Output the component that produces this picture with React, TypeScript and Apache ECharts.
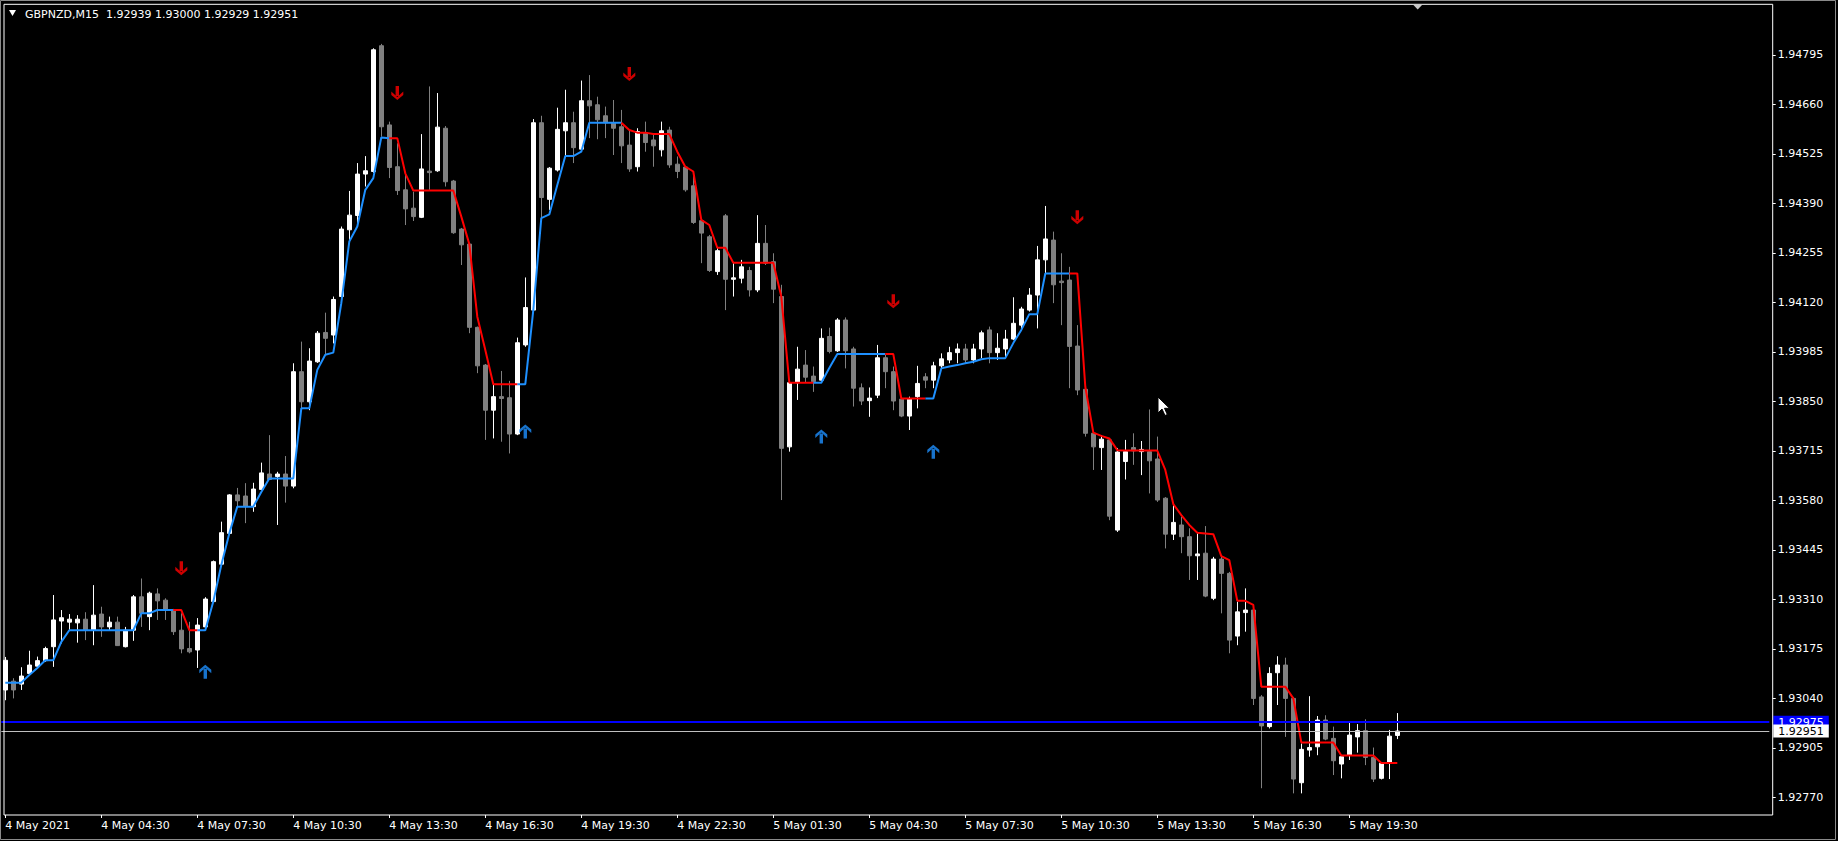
import React, { useEffect, useRef } from "react";
import * as echarts from "echarts";

const symbolName = "GBPNZD";
const timeframe = "M15";

const tickLabels = [
  "4 May 2021", "4 May 04:30", "4 May 07:30", "4 May 10:30", "4 May 13:30",
  "4 May 16:30", "4 May 19:30", "4 May 22:30", "5 May 01:30", "5 May 04:30",
  "5 May 07:30", "5 May 10:30", "5 May 13:30", "5 May 16:30", "5 May 19:30",
];

const priceTicks = [
  1.9277, 1.92905, 1.9304, 1.93175, 1.9331, 1.93445, 1.9358, 1.93715,
  1.9385, 1.93985, 1.9412, 1.94255, 1.9439, 1.94525, 1.9466, 1.94795,
];

const opens = [
  1.93063, 1.93087, 1.93079, 1.93108, 1.93128, 1.93143, 1.93181, 1.93251, 1.93248, 1.93246,
  1.93256, 1.93226, 1.9327, 1.93235, 1.93248, 1.93181, 1.93226, 1.93317, 1.93263, 1.93325,
  1.93308, 1.93281, 1.93226, 1.93176, 1.93172, 1.93235, 1.93304, 1.93406, 1.9349, 1.93595,
  1.93592, 1.93563, 1.9361, 1.93652, 1.93645, 1.93652, 1.93619, 1.93931, 1.93849, 1.93958,
  1.94038, 1.94031, 1.94136, 1.94318, 1.94357, 1.9447, 1.94477, 1.9482, 1.94604, 1.9449,
  1.94427, 1.94377, 1.94352, 1.94478, 1.94479, 1.94595, 1.94451, 1.9432, 1.94279, 1.94052,
  1.93949, 1.93826, 1.93863, 1.9386, 1.93761, 1.94004, 1.94099, 1.9461, 1.94401, 1.94481,
  1.94588, 1.9461, 1.94538, 1.9467, 1.94659, 1.94629, 1.9461, 1.94599, 1.94549, 1.9449,
  1.94583, 1.94563, 1.94536, 1.9459, 1.94497, 1.94489, 1.94438, 1.94343, 1.94299, 1.94204,
  1.94356, 1.94183, 1.94186, 1.94207, 1.94154, 1.94281, 1.94231, 1.94136, 1.93726, 1.93901,
  1.93949, 1.93919, 1.93908, 1.94027, 1.93988, 1.94072, 1.93993, 1.93887, 1.93852, 1.93867,
  1.93969, 1.93931, 1.93856, 1.9381, 1.93863, 1.93917, 1.93908, 1.93947, 1.93963, 1.93983,
  1.93993, 1.93963, 1.93993, 1.94045, 1.93983, 1.93993, 1.9402, 1.94058, 1.94099, 1.9414,
  1.94236, 1.9429, 1.94178, 1.94181, 1.94001, 1.93883, 1.93763, 1.93724, 1.93745, 1.93499,
  1.93686, 1.93724, 1.93713, 1.93713, 1.93693, 1.93586, 1.93488, 1.93513, 1.93481, 1.93429,
  1.93436, 1.93313, 1.9342, 1.93381, 1.9321, 1.93274, 1.93281, 1.93044, 1.92963, 1.9311,
  1.93131, 1.9304, 1.9281, 1.92899, 1.92908, 1.92981, 1.92931, 1.92861, 1.92885, 1.92935,
  1.92952, 1.92879, 1.92822, 1.92863, 1.92939,
];

const closes = [
  1.93144, 1.93063, 1.93101, 1.93131, 1.93143, 1.93176, 1.93254, 1.9326, 1.93256, 1.93256,
  1.93226, 1.93267, 1.93235, 1.93248, 1.93184, 1.93226, 1.93317, 1.93272, 1.93327, 1.93306,
  1.93283, 1.93222, 1.93175, 1.93167, 1.9324, 1.93311, 1.93413, 1.93492, 1.93595, 1.93579,
  1.93563, 1.93611, 1.93655, 1.93637, 1.93652, 1.93619, 1.93931, 1.93849, 1.9396, 1.94036,
  1.94022, 1.94128, 1.9432, 1.94358, 1.9447, 1.94479, 1.94809, 1.94599, 1.94488, 1.94425,
  1.94375, 1.94354, 1.94484, 1.94474, 1.94598, 1.94449, 1.9431, 1.94277, 1.94052, 1.93947,
  1.93826, 1.93863, 1.93858, 1.93761, 1.9401, 1.94106, 1.9461, 1.94406, 1.94486, 1.94592,
  1.9461, 1.94542, 1.9467, 1.94656, 1.94618, 1.9461, 1.94595, 1.94547, 1.94484, 1.94586,
  1.94556, 1.94547, 1.94588, 1.94495, 1.94477, 1.94427, 1.94338, 1.94309, 1.94207, 1.94261,
  1.94183, 1.94187, 1.94217, 1.94154, 1.94281, 1.94227, 1.94156, 1.93722, 1.93901, 1.93938,
  1.93916, 1.93904, 1.94022, 1.93986, 1.94072, 1.93988, 1.93886, 1.93851, 1.93859, 1.93969,
  1.93931, 1.93851, 1.9381, 1.93856, 1.93899, 1.93908, 1.93947, 1.93966, 1.93983, 1.93993,
  1.93963, 1.93993, 1.94037, 1.93983, 1.93995, 1.9402, 1.94063, 1.94102, 1.9414, 1.94236,
  1.94293, 1.94168, 1.94174, 1.94, 1.93881, 1.93763, 1.93726, 1.93747, 1.93537, 1.93712,
  1.93713, 1.93715, 1.93719, 1.93688, 1.93581, 1.93488, 1.9352, 1.93481, 1.93429, 1.93434,
  1.93319, 1.9342, 1.93381, 1.93199, 1.93276, 1.93281, 1.9304, 1.92965, 1.93108, 1.93131,
  1.9304, 1.9282, 1.92901, 1.92906, 1.92981, 1.92929, 1.9287, 1.92881, 1.9294, 1.92952,
  1.92879, 1.9282, 1.92863, 1.92937, 1.92951,
];

const highs = [
  1.93153, 1.93095, 1.93125, 1.9317, 1.93154, 1.93181, 1.93322, 1.93281, 1.9327, 1.93267,
  1.93275, 1.93349, 1.9329, 1.93263, 1.93263, 1.93235, 1.93322, 1.93367, 1.93331, 1.9334,
  1.93313, 1.93284, 1.93272, 1.93249, 1.93259, 1.93316, 1.93416, 1.93522, 1.93597, 1.93614,
  1.93627, 1.93628, 1.93683, 1.93758, 1.93658, 1.93701, 1.93954, 1.94013, 1.93995, 1.94042,
  1.94092, 1.94136, 1.94327, 1.94424, 1.945, 1.94519, 1.94813, 1.94825, 1.94613, 1.94554,
  1.94472, 1.94422, 1.94579, 1.94709, 1.94691, 1.94601, 1.94454, 1.94323, 1.94282, 1.94054,
  1.93952, 1.93895, 1.93933, 1.93906, 1.94024, 1.94188, 1.9462, 1.94629, 1.94489, 1.94651,
  1.947, 1.9464, 1.94725, 1.9474, 1.94681, 1.94654, 1.94672, 1.94645, 1.9459, 1.94595,
  1.94613, 1.94577, 1.94613, 1.94599, 1.94518, 1.9449, 1.94477, 1.9435, 1.94304, 1.94268,
  1.94361, 1.94227, 1.94236, 1.94217, 1.94358, 1.94331, 1.94254, 1.94168, 1.93908, 1.93999,
  1.9399, 1.93945, 1.94049, 1.94051, 1.94077, 1.94079, 1.93999, 1.93899, 1.93888, 1.94004,
  1.93977, 1.93945, 1.93859, 1.93863, 1.93947, 1.93927, 1.93958, 1.93981, 1.93999, 1.94008,
  1.94007, 1.94007, 1.94043, 1.94054, 1.94036, 1.94045, 1.94134, 1.94108, 1.94159, 1.94274,
  1.94383, 1.94313, 1.94254, 1.94217, 1.94058, 1.93887, 1.93767, 1.93758, 1.9375, 1.93723,
  1.93745, 1.93763, 1.93742, 1.93828, 1.93754, 1.93589, 1.93567, 1.93535, 1.93504, 1.9349,
  1.9351, 1.93426, 1.93426, 1.93385, 1.93304, 1.9334, 1.93295, 1.93049, 1.93125, 1.93155,
  1.93151, 1.93044, 1.92917, 1.93046, 1.92992, 1.92994, 1.92963, 1.92885, 1.92974, 1.9297,
  1.92983, 1.92906, 1.92866, 1.92954, 1.93,
];

const lows = [
  1.93035, 1.9304, 1.93063, 1.93104, 1.93122, 1.9314, 1.93126, 1.9319, 1.93226, 1.93192,
  1.93199, 1.93185, 1.93208, 1.93226, 1.93183, 1.93179, 1.93197, 1.93235, 1.93226, 1.93254,
  1.93254, 1.93213, 1.93163, 1.93163, 1.93123, 1.93229, 1.933, 1.93401, 1.93488, 1.93563,
  1.93518, 1.93549, 1.93608, 1.93636, 1.93513, 1.93574, 1.93613, 1.93826, 1.93826, 1.93955,
  1.93977, 1.94008, 1.94132, 1.9429, 1.94327, 1.94436, 1.94473, 1.94572, 1.94459, 1.94413,
  1.94331, 1.94342, 1.9435, 1.94427, 1.94476, 1.94436, 1.94307, 1.94222, 1.94036, 1.93927,
  1.93745, 1.93749, 1.9374, 1.93708, 1.93758, 1.93999, 1.94097, 1.9435, 1.94372, 1.94477,
  1.94518, 1.945, 1.94536, 1.94568, 1.94565, 1.94568, 1.94522, 1.945, 1.94476, 1.94477,
  1.94531, 1.9449, 1.94518, 1.94487, 1.94459, 1.94422, 1.94334, 1.94227, 1.94203, 1.94195,
  1.94099, 1.94136, 1.94172, 1.94136, 1.94148, 1.94222, 1.94118, 1.93581, 1.93713, 1.93854,
  1.93901, 1.93876, 1.93904, 1.93981, 1.93985, 1.9394, 1.93836, 1.9384, 1.93808, 1.93859,
  1.93886, 1.93826, 1.93807, 1.93772, 1.93831, 1.93886, 1.93886, 1.93936, 1.93954, 1.93954,
  1.93955, 1.93954, 1.93968, 1.93954, 1.93963, 1.93968, 1.94017, 1.94045, 1.94095, 1.94049,
  1.94199, 1.94118, 1.94058, 1.93886, 1.93867, 1.93754, 1.93663, 1.93663, 1.93526, 1.93494,
  1.93637, 1.93677, 1.93649, 1.93599, 1.93576, 1.93449, 1.93472, 1.93436, 1.93363, 1.93363,
  1.93316, 1.93308, 1.93272, 1.93163, 1.93185, 1.93222, 1.93022, 1.92795, 1.92958, 1.93022,
  1.92935, 1.92781, 1.92781, 1.92881, 1.92885, 1.92926, 1.92831, 1.92822, 1.92872, 1.92892,
  1.92858, 1.92812, 1.92819, 1.9282, 1.92929,
];

const trendLine = [
  1.93083, 1.93083, 1.93083, 1.93104, 1.93123, 1.93144, 1.93144, 1.93194, 1.93226, 1.93226,
  1.93226, 1.93226, 1.93226, 1.93226, 1.93226, 1.93226, 1.93226, 1.93272, 1.93272, 1.93281,
  1.93281, 1.93281, 1.93281, 1.93226, 1.93226, 1.93226, 1.93304, 1.93404, 1.9349, 1.93563,
  1.93563, 1.93563, 1.93603, 1.9364, 1.9364, 1.9364, 1.9364, 1.93831, 1.93831, 1.93936,
  1.93977, 1.93983, 1.94118, 1.94286, 1.94327, 1.94427, 1.94459, 1.9457, 1.94568, 1.94568,
  1.94472, 1.94425, 1.94425, 1.94425, 1.94425, 1.94425, 1.94425, 1.94354, 1.94279, 1.94081,
  1.9399, 1.93897, 1.93897, 1.93897, 1.93897, 1.93897, 1.94099, 1.9435, 1.9436, 1.9444,
  1.94519, 1.94519, 1.94531, 1.9461, 1.9461, 1.9461, 1.9461, 1.9461, 1.9459, 1.94583,
  1.94583, 1.94579, 1.94579, 1.94579, 1.94531, 1.9449, 1.94477, 1.94345, 1.94331, 1.94269,
  1.94269, 1.94228, 1.94228, 1.94228, 1.94228, 1.94228, 1.94228, 1.94136, 1.93901, 1.93901,
  1.93901, 1.93901, 1.93901, 1.93941, 1.93979, 1.93979, 1.93979, 1.93979, 1.93979, 1.93979,
  1.93979, 1.93979, 1.93858, 1.93858, 1.93858, 1.93858, 1.93858, 1.9394, 1.93945, 1.93949,
  1.93954, 1.93958, 1.93965, 1.93968, 1.93968, 1.93968, 1.94009, 1.94045, 1.94088, 1.94088,
  1.94199, 1.94199, 1.94199, 1.94199, 1.94199, 1.9389, 1.93765, 1.93756, 1.93749, 1.93717,
  1.93716, 1.93716, 1.93716, 1.93716, 1.93716, 1.93663, 1.9357, 1.9354, 1.93513, 1.93492,
  1.9349, 1.93488, 1.93428, 1.93417, 1.93306, 1.93306, 1.93295, 1.93072, 1.93072, 1.93072,
  1.93072, 1.9304, 1.9292, 1.9292, 1.9292, 1.9292, 1.9292, 1.92884, 1.92884, 1.92884,
  1.92884, 1.92884, 1.92864, 1.92864, 1.92864,
];

// [firstBar, lastBar, direction]
const trendSegments: [number, number, "up" | "down"][] = [
  [0, 21, "up"], [21, 24, "down"], [24, 48, "up"], [48, 64, "down"], [64, 77, "up"],
  [77, 101, "down"], [101, 110, "up"], [110, 115, "down"], [115, 133, "up"], [133, 174, "down"],
];

const sellArrowBars = [22, 49, 78, 111, 134];
const sellArrowPrices = [1.93395, 1.94691, 1.94743, 1.94123, 1.94352];
const buyArrowBars = [25, 65, 102, 116];
const buyArrowPrices = [1.93113, 1.93768, 1.93754, 1.93713];

const askPrice = 1.92975;
const axisMin = 1.92722;
const axisMax = 1.94933;
const totalSlots = 221;
const barsPerLabel = 12;

const FONT = '"DejaVu Sans", sans-serif';
const DOWN_ARROW = "path://M4.3,0 L7.7,0 L7.7,10 L4.3,10 Z M0,5.5 L6,11 L12,5.5 L12,9 L6,14 L0,9 Z";
const UP_ARROW = "path://M4.3,4 L7.7,4 L7.7,14 L4.3,14 Z M0,8.5 L6,3 L12,8.5 L12,5 L6,0 L0,5 Z";

export default function App() {
  const ref = useRef<HTMLDivElement>(null);

  useEffect(() => {
    document.body.style.margin = "0";
    document.body.style.overflow = "hidden";
    document.body.style.background = "#000";
    const chart = echarts.init(ref.current as HTMLDivElement, null, { renderer: "svg" });

    const categories = Array.from({ length: totalSlots }, (_, i) => String(i));
    const showLabel = (i: number) => i % barsPerLabel === 0 && i / barsPerLabel < tickLabels.length;
    const candles = opens.map((o, i) => [o, closes[i], lows[i], highs[i]]);
    const inDir = (i: number, dir: string) =>
      trendSegments.some(([a, b, d]) => d === dir && i >= a && i <= b);
    const upLine = trendLine.map((v, i) => (inDir(i, "up") ? v : null));
    const downLine = trendLine.map((v, i) => (inDir(i, "down") ? v : null));
    const last = opens.length - 1;
    const bid = closes[last];
    const header = `${symbolName},${timeframe}  ${opens[last].toFixed(5)} ${highs[last].toFixed(5)} ${lows[last].toFixed(5)} ${closes[last].toFixed(5)}`;

    const option: any = {
      animation: false,
      backgroundColor: "#000000",
      grid: { left: 1.3, top: 4.3, width: 1768, height: 810.7, containLabel: false, outerBoundsMode: "none" },
      xAxis: {
        type: "category",
        data: categories,
        boundaryGap: true,
        axisLine: { show: false },
        axisTick: {
          show: true,
          length: 3,
          alignWithLabel: true,
          interval: (i: number) => showLabel(i),
          lineStyle: { color: "#ffffff" },
        },
        axisLabel: {
          interval: (i: number) => showLabel(i),
          formatter: (_v: string, i: number) => (showLabel(i) ? tickLabels[i / barsPerLabel] : ""),
          align: "left",
          color: "#ffffff",
          fontSize: 11,
          fontFamily: FONT,
          margin: 5,
        },
        splitLine: { show: false },
      },
      yAxis: {
        type: "value",
        position: "right",
        min: axisMin,
        max: axisMax,
        offset: 3.4,
        axisLine: { show: false },
        axisTick: { show: true, length: 3, customValues: priceTicks, lineStyle: { color: "#ffffff" } },
        axisLabel: {
          customValues: priceTicks,
          formatter: (v: number) => v.toFixed(5),
          color: "#ffffff",
          fontSize: 11,
          fontFamily: FONT,
          margin: 5,
        },
        splitLine: { show: false },
      },
      series: [
        {
          type: "candlestick",
          data: candles,
          barWidth: 4,
          itemStyle: {
            color: "#ffffff",
            color0: "#808080",
            borderColor: "#ffffff",
            borderColor0: "#808080",
            borderColorDoji: "#ffffff",
            borderWidth: 1,
          },
          markLine: {
            silent: true,
            symbol: ["none", "none"],
            precision: 5,
            animation: false,
            label: {
              show: true,
              position: "end",
              distance: 4,
              fontSize: 11,
              fontFamily: FONT,
              padding: [1, 5, 1, 5],
              formatter: (p: any) => Number(p.value).toFixed(5),
            },
            data: [
              {
                yAxis: askPrice,
                lineStyle: { color: "#0000ff", width: 2, type: "solid" },
                label: { backgroundColor: "#0000ff", color: "#ffffff" },
              },
              {
                yAxis: bid,
                lineStyle: { color: "#c0c0c0", width: 1, type: "solid" },
                label: { backgroundColor: "#ffffff", color: "#000000" },
              },
            ],
          },
          z: 2,
        },
        {
          type: "line",
          data: upLine,
          symbol: "none",
          connectNulls: false,
          lineStyle: { color: "#1e90ff", width: 2 },
          z: 3,
        },
        {
          type: "line",
          data: downLine,
          symbol: "none",
          connectNulls: false,
          lineStyle: { color: "#ff0000", width: 2 },
          z: 3,
        },
        {
          type: "scatter",
          data: sellArrowBars.map((b, k) => [b, sellArrowPrices[k]]),
          symbol: DOWN_ARROW,
          symbolSize: [12, 14],
          itemStyle: { color: "#ff0000" },
          z: 4,
        },
        {
          type: "scatter",
          data: buyArrowBars.map((b, k) => [b, buyArrowPrices[k]]),
          symbol: UP_ARROW,
          symbolSize: [12, 14],
          itemStyle: { color: "#1e90ff" },
          z: 4,
        },
      ],
      graphic: [
        {
          type: "rect",
          shape: { x: 0.5, y: 0.5, width: 1835, height: 839 },
          style: { fill: "none", stroke: "#8a8a8a", lineWidth: 1 },
          silent: true,
          z: 10,
        },
        {
          type: "rect",
          shape: { x: 4, y: 4.3, width: 1768.7, height: 810.7 },
          style: { fill: "none", stroke: "#ffffff", lineWidth: 1 },
          silent: true,
          z: 10,
        },
        {
          type: "polygon",
          shape: { points: [[9, 10], [16, 10], [12.5, 16]] },
          style: { fill: "#ffffff" },
          silent: true,
          z: 10,
        },
        {
          type: "text",
          x: 25,
          y: 14,
          style: {
            text: header,
            fill: "#ffffff",
            font: `11px ${FONT}`,
            verticalAlign: "middle",
            textAlign: "left",
          },
          silent: true,
          z: 10,
        },
        {
          type: "polygon",
          shape: { points: [[1413, 4.5], [1422.5, 4.5], [1417.7, 9.5]] },
          style: { fill: "#c8c8c8" },
          silent: true,
          z: 10,
        },
        {
          type: "polygon",
          shape: {
            points: [[1158, 397], [1158, 413], [1162, 409], [1165, 415.5], [1167.3, 414.5], [1164.5, 408.3], [1169.5, 408.3]],
          },
          style: { fill: "#ffffff", stroke: "#000000", lineWidth: 1 },
          silent: true,
          z: 11,
        },
      ],
    };

    chart.setOption(option);
    return () => chart.dispose();
  }, []);

  return <div ref={ref} style={{ width: 1838, height: 841 }} />;
}
